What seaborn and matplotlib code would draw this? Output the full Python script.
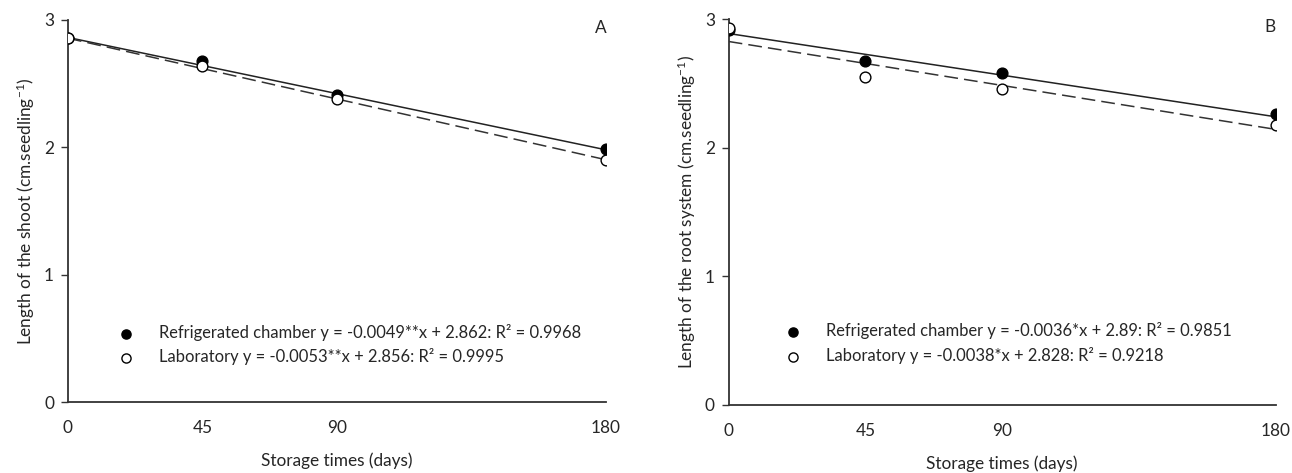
import matplotlib
matplotlib.use("Agg")
import matplotlib.pyplot as plt
import seaborn as sns
import numpy as np
import pandas as pd

sns.set_theme(style="white")
plt.rcParams['font.family'] = ['Lato', 'DejaVu Sans']
plt.rcParams['mathtext.fontset'] = 'custom'
plt.rcParams['mathtext.rm'] = 'Lato'
plt.rcParams['mathtext.it'] = 'Lato:italic'

days = [0, 45, 90, 180]
xticks = [0, 45, 90, 180]
yticks = [0, 1, 2, 3]

# Panel A: shoot length
shoot_ref = [2.856, 2.68, 2.41, 1.99]
shoot_lab = [2.856, 2.64, 2.375, 1.90]
shoot_ref_coef = (-0.0049, 2.862)
shoot_lab_coef = (-0.0053, 2.856)
shoot_labels = ["Refrigerated chamber y = -0.0049**x + 2.862: R² = 0.9968",
                "Laboratory y = -0.0053**x + 2.856: R² = 0.9995"]

# Panel B: root system length
root_ref = [2.92, 2.68, 2.58, 2.26]
root_lab = [2.93, 2.55, 2.46, 2.18]
root_ref_coef = (-0.0036, 2.89)
root_lab_coef = (-0.0038, 2.828)
root_labels = ["Refrigerated chamber y = -0.0036*x + 2.89: R² = 0.9851",
               "Laboratory y = -0.0038*x + 2.828: R² = 0.9218"]

fig = plt.figure(figsize=(12.92, 4.73), dpi=100)
renderer = fig.canvas.get_renderer()

def fit_size(s, target_px, base=12.0):
    t = fig.text(0, 0, s, fontsize=base)
    w = t.get_window_extent(renderer=renderer).width
    t.remove()
    return base * target_px / w

LFS = fit_size(shoot_labels[0], 422)
FS = fit_size("Storage times (days)", 151)

axA = fig.add_axes([0.0526, 0.150, 0.4164, 0.808])
axB = fig.add_axes([0.564, 0.144, 0.4234, 0.815])

def draw(ax, ref, lab, cref, clab, labels, ylabel, tag, legpos):
    xs = np.array([days[0], days[-1]])
    line_df = pd.DataFrame({
        "x": np.concatenate([xs, xs]),
        "y": np.concatenate([cref[0] * xs + cref[1], clab[0] * xs + clab[1]]),
        "s": ["ref"] * 2 + ["lab"] * 2,
    })
    sns.lineplot(data=line_df[line_df.s == "ref"], x="x", y="y", ax=ax,
                 color="#222222", lw=1.1, legend=False)
    sns.lineplot(data=line_df[line_df.s == "lab"], x="x", y="y", ax=ax,
                 color="#333333", lw=1.1, legend=False, dashes=False,
                 linestyle=(0, (9, 4)))
    sns.scatterplot(x=days, y=ref, ax=ax, s=60, color="black",
                    edgecolor="black", linewidth=1, label=labels[0], zorder=3)
    sns.scatterplot(x=days, y=lab, ax=ax, s=60, color="white",
                    edgecolor="black", linewidth=1, label=labels[1], zorder=4)
    ax.set_xlim(0, 180)
    ax.set_ylim(0, 3)
    ax.set_xticks(xticks)
    ax.set_xticklabels([str(t) for t in xticks])
    ax.set_yticks(yticks)
    ax.set_yticklabels([str(t) for t in yticks])
    ax.tick_params(axis='y', which='both', left=True, length=5, width=1,
                   color="#333333", labelsize=FS, pad=5)
    ax.tick_params(axis='x', which='both', bottom=False, labelsize=FS, pad=7)
    for side in ["top", "right"]:
        ax.spines[side].set_visible(False)
    for side in ["left", "bottom"]:
        ax.spines[side].set_color("#333333")
        ax.spines[side].set_linewidth(1.3)
    ax.set_xlabel("Storage times (days)", fontsize=FS, labelpad=12)
    ax.set_ylabel(ylabel, fontsize=FS, labelpad=5)
    ax.text(0.99, 0.98, tag, transform=ax.transAxes, ha="center", va="center",
            fontsize=FS)
    leg = ax.legend(loc="center left", bbox_to_anchor=legpos,
                    frameon=False, fontsize=LFS, handletextpad=1.0,
                    labelspacing=0.45, markerscale=0.85)
    return leg

draw(axA, shoot_ref, shoot_lab, shoot_ref_coef, shoot_lab_coef, shoot_labels,
     "Length of the shoot (cm.seedling$^{-1}$)", "A", (0.05, 0.15))
draw(axB, root_ref, root_lab, root_ref_coef, root_lab_coef, root_labels,
     "Length of the root system (cm.seedling$^{-1}$)", "B", (0.06, 0.16))

fig.savefig("out.png", dpi=100, facecolor="white")
